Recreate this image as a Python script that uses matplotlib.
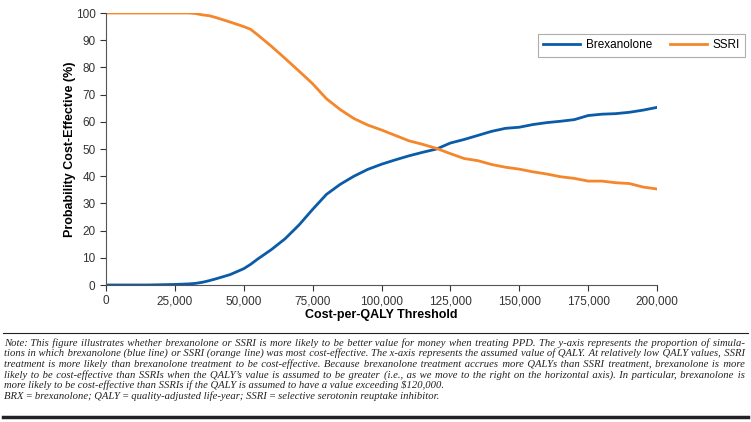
import matplotlib
matplotlib.use("Agg")
import matplotlib.pyplot as plt
from matplotlib.ticker import FuncFormatter

# willingness-to-pay thresholds ($ per QALY)
wtp = [0, 5000, 10000, 15000, 20000, 25000, 30000, 32500, 35000, 37500, 40000,
       45000, 50000, 52500, 55000, 60000, 65000, 70000, 75000, 80000, 85000,
       90000, 95000, 100000, 105000, 110000, 115000, 120000, 125000, 130000,
       135000, 140000, 145000, 150000, 155000, 160000, 165000, 170000, 175000,
       180000, 185000, 190000, 195000, 200000]

brexanolone = [0, 0, 0, 0, 0.1, 0.2, 0.4, 0.6, 1.0, 1.6, 2.3,
               3.8, 6.0, 7.6, 9.5, 13.0, 17.0, 22.0, 27.8, 33.3, 37.0,
               40.0, 42.5, 44.4, 46.0, 47.5, 48.8, 50.0, 52.2, 53.5,
               55.0, 56.5, 57.6, 58.0, 59.0, 59.7, 60.2, 60.8, 62.3,
               62.8, 63.0, 63.5, 64.3, 65.3]

ssri = [100, 100, 100, 100, 100, 100, 100, 99.8, 99.3, 99.0, 98.3,
        96.7, 95.0, 94.0, 92.0, 87.8, 83.3, 78.7, 74.0, 68.5, 64.5,
        61.2, 58.8, 57.0, 55.0, 53.0, 51.7, 50.2, 48.3, 46.5,
        45.7, 44.3, 43.3, 42.6, 41.6, 40.8, 39.8, 39.2, 38.2,
        38.2, 37.6, 37.3, 36.0, 35.3]

note_lines = [
    "Note: This figure illustrates whether brexanolone or SSRI is more likely to be better value for money when treating PPD. The y-axis represents the proportion of simula-",
    "tions in which brexanolone (blue line) or SSRI (orange line) was most cost-effective. The x-axis represents the assumed value of QALY. At relatively low QALY values, SSRI",
    "treatment is more likely than brexanolone treatment to be cost-effective. Because brexanolone treatment accrues more QALYs than SSRI treatment, brexanolone is more",
    "likely to be cost-effective than SSRIs when the QALY\u2019s value is assumed to be greater (i.e., as we move to the right on the horizontal axis). In particular, brexanolone is",
    "more likely to be cost-effective than SSRIs if the QALY is assumed to have a value exceeding $120,000.",
    "BRX\u2009=\u2009brexanolone; QALY\u2009=\u2009quality-adjusted life-year; SSRI\u2009=\u2009selective serotonin reuptake inhibitor.",
]
justified = [True, True, True, True, False, False]

plt.rcParams['font.family'] = ['Liberation Sans', 'DejaVu Sans']

fig = plt.figure(figsize=(7.51, 4.22), dpi=100)
ax = fig.add_axes([106 / 751, 1 - 285 / 422, 551 / 751, 272 / 422])

ax.plot(wtp, brexanolone, color='#0a5ba8', lw=2, label='Brexanolone')
ax.plot(wtp, ssri, color='#f5862a', lw=2, label='SSRI')

ax.set_xlim(0, 200000)
ax.set_ylim(0, 100)
ax.set_xticks(range(0, 200001, 25000))
ax.set_yticks(range(0, 101, 10))
ax.xaxis.set_major_formatter(FuncFormatter(lambda v, p: '{:,.0f}'.format(v)))
for s in ['top', 'right']:
    ax.spines[s].set_visible(False)
for s in ['left', 'bottom']:
    ax.spines[s].set_color('#555555')
    ax.spines[s].set_linewidth(0.8)
ax.tick_params(colors='#333333', labelsize=8.5, length=4, width=0.8)
ax.set_xlabel('Cost-per-QALY Threshold', fontsize=9, fontweight='bold', labelpad=1)
ax.set_ylabel('Probability Cost-Effective (%)', fontsize=9, fontweight='bold', labelpad=0)

leg = ax.legend(loc='upper right', bbox_to_anchor=(745 / 751, 1 - 34 / 422),
                bbox_transform=fig.transFigure, borderaxespad=0, ncol=2,
                fontsize=8.5, frameon=True, fancybox=False, edgecolor='#999999',
                handlelength=3.1, columnspacing=1.5, borderpad=0.45,
                handletextpad=0.5)
leg.get_frame().set_linewidth(0.8)

# note block below the chart
fig.add_artist(plt.Line2D([3 / 751, 748 / 751], [1 - 332.5 / 422] * 2,
                          color='#222222', lw=0.8))
fig.add_artist(plt.Line2D([3 / 751, 748 / 751], [1 - 417 / 422] * 2,
                          color='#222222', lw=2.5))

note_font = dict(fontsize=7.7, style='italic', family=['Liberation Serif', 'DejaVu Serif'],
                 va='baseline', ha='left', color='#222222')
renderer = fig.canvas.get_renderer()


def text_width(s):
    t = fig.text(0, 0, s, **note_font)
    w = t.get_window_extent(renderer).width
    t.remove()
    return w


HAIR = '\u200a'
hair_w = (text_width('x' + HAIR * 40 + 'x') - text_width('xx')) / 40
x0, x1 = 4, 745
for i, line in enumerate(note_lines):
    y = 1 - (345.5 + i * 10.7) / 422
    if justified[i]:
        # pad the word gaps with hair spaces so the line fills the full width
        words = line.split(' ')
        n_gaps = len(words) - 1
        extra = max(0, round((x1 - x0 - text_width(line)) / hair_w))
        out = words[0]
        for k in range(n_gaps):
            n = extra * (k + 1) // n_gaps - extra * k // n_gaps
            out += ' ' + HAIR * n + words[k + 1]
        line = out
    fig.text(x0 / 751, y, line, **note_font)

fig.savefig('out.png', dpi=100)
